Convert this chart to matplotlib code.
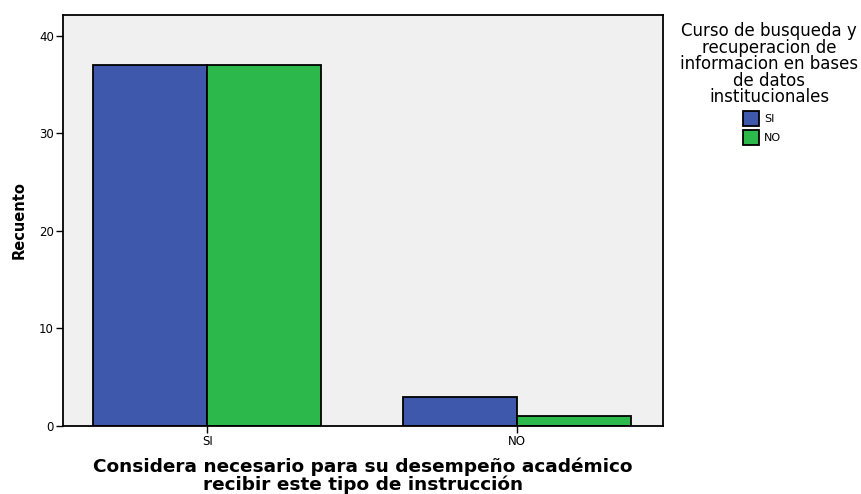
import numpy as np
import matplotlib.pyplot as plt

plt.rcParams['font.family'] = ['DejaVu Sans']

# data
categories = ['SI', 'NO']
series_names = ['SI', 'NO']
recuento_si = [37, 3]
recuento_no = [37, 1]
colors = ['#3e58ac', '#2db84b']
legend_title = 'Curso de busqueda y\nrecuperacion de\ninformacion en bases\nde datos\ninstitucionales'

W, H = 861, 494
fig = plt.figure(figsize=(W / 100, H / 100), dpi=100)
ax = fig.add_axes([63 / W, 1 - 426 / H, 600 / W, 411 / H])
ax.set_facecolor('#f0f0f0')

x = np.arange(len(categories))
w = 0.368
ax.bar(x - w / 2, recuento_si, w, color=colors[0], edgecolor='black', linewidth=1.3, label=series_names[0])
ax.bar(x + w / 2, recuento_no, w, color=colors[1], edgecolor='black', linewidth=1.3, label=series_names[1])

ax.set_xlim(-0.465, 1.47)
ax.set_ylim(0, 42.15)
ax.set_yticks([0, 10, 20, 30, 40])
ax.set_xticks(x)
ax.set_xticklabels(categories)
ax.tick_params(axis='both', labelsize=8.5, length=5, width=1, color='black', pad=1.5)
for s in ax.spines.values():
    s.set_linewidth(1.3)

ax.set_ylabel('Recuento', fontsize=10.5, fontweight='bold', labelpad=9)
ax.set_xlabel('Considera necesario para su desempeño académico\nrecibir este tipo de instrucción',
              fontsize=13.3, fontweight='bold', linespacing=1.0, labelpad=6.5)

# legend title drawn on its own, entries below
fig.text(769 / W, 1 - 22 / H, legend_title, ha='center', va='top', fontsize=12,
         linespacing=0.9, multialignment='center')
leg = fig.legend(loc='upper left', bbox_to_anchor=(743 / W, 1 - 111 / H), frameon=False,
                 fontsize=8, handlelength=1.4, handleheight=1.75, handletextpad=0.5,
                 labelspacing=0.3, borderpad=0, borderaxespad=0)
for p in leg.get_patches():
    p.set_linewidth(1.3)

plt.savefig('out.png', dpi=100)
